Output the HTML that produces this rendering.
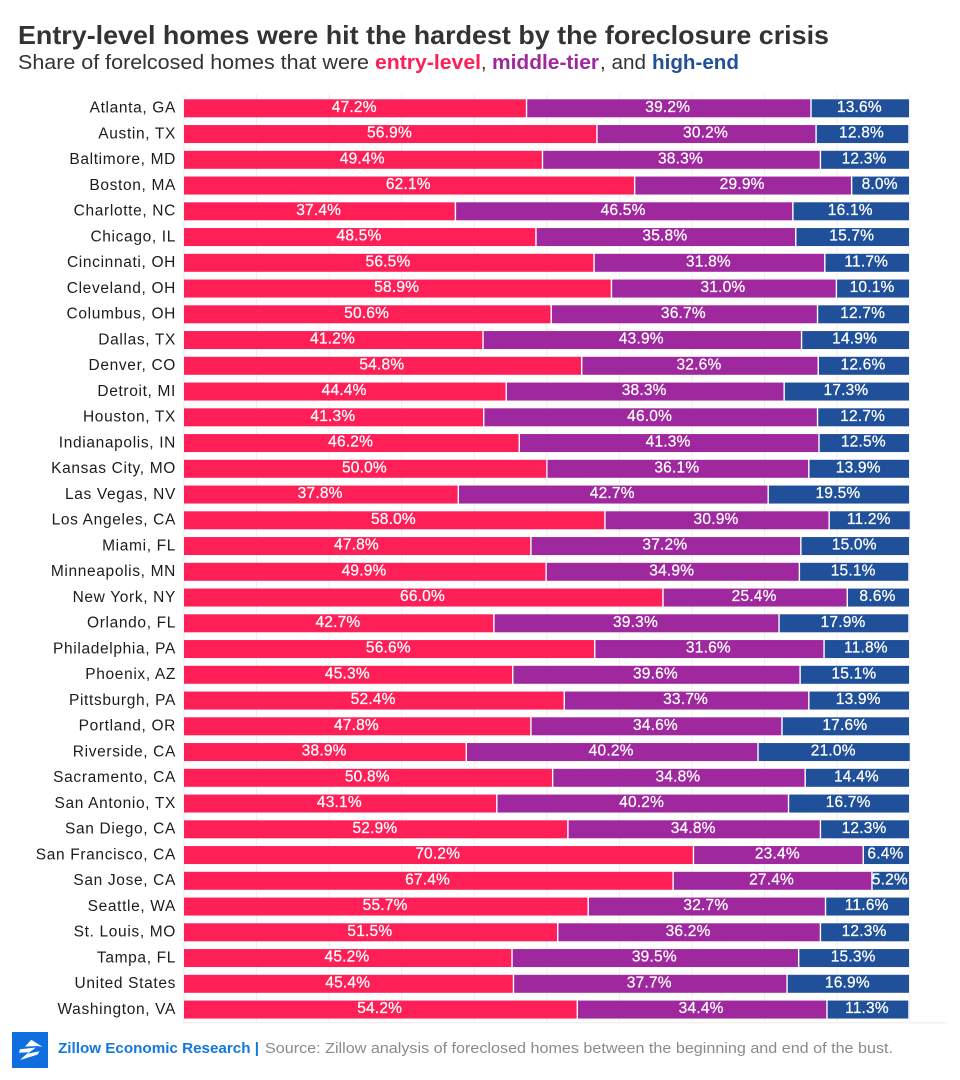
<!DOCTYPE html>
<html lang="en">
<head>
<meta charset="utf-8">
<title>Entry-level homes were hit the hardest by the foreclosure crisis</title>
<style>
html,body{margin:0;padding:0;background:#fff;}
body{width:960px;height:1080px;overflow:hidden;}
svg{display:block;font-family:"Liberation Sans",sans-serif;}
</style>
</head>
<body>
<svg id="chart" width="960" height="1080" viewBox="0 0 960 1080" xmlns="http://www.w3.org/2000/svg">
  <text x="18" y="44" font-size="26" font-weight="700" fill="#333333" textLength="811" lengthAdjust="spacingAndGlyphs">Entry-level homes were hit the hardest by the foreclosure crisis</text>
  <g font-size="20">
    <text x="18" y="69" fill="#333333" textLength="351" lengthAdjust="spacingAndGlyphs">Share of forelcosed homes that were</text>
    <text x="375" y="69" fill="#ff1f57" font-weight="700" textLength="106" lengthAdjust="spacingAndGlyphs">entry-level</text>
    <text x="481" y="69" fill="#333333">,</text>
    <text x="492" y="69" fill="#a0289f" font-weight="700" textLength="107" lengthAdjust="spacingAndGlyphs">middle-tier</text>
    <text x="600" y="69" fill="#333333" textLength="46" lengthAdjust="spacingAndGlyphs">, and</text>
    <text x="652" y="69" fill="#1f5099" font-weight="700" textLength="87" lengthAdjust="spacingAndGlyphs">high-end</text>
  </g>
  <g id="grid"></g>
  <g id="labels"></g>
  <g id="bars"></g>
  <rect x="183" y="1022" width="764" height="1.5" fill="#f2f2f2"></rect>
  <g>
    <rect x="12" y="1032" width="36" height="36" fill="#0f6fe0"></rect>
    <path d="M31.3 1039.7 L42.5 1046.8 L36.5 1046 L25 1046.6 Z M20 1049.3 L36 1047.5 L27.5 1053.8 L39.5 1051.3 L37.5 1054.6 L20 1060 L28.5 1052.3 L19 1052.8 Z" fill="#ffffff"></path>
  </g>
  <text x="58" y="1053" font-size="14.5" font-weight="700" fill="#1277e1" textLength="201" lengthAdjust="spacingAndGlyphs">Zillow Economic Research |</text>
  <text x="265" y="1053" font-size="14.5" fill="#8a8a8a" textLength="628" lengthAdjust="spacingAndGlyphs">Source: Zillow analysis of foreclosed homes between the beginning and end of the bust.</text>
</svg>
<script>
const categories = ["Atlanta, GA","Austin, TX","Baltimore, MD","Boston, MA","Charlotte, NC","Chicago, IL","Cincinnati, OH","Cleveland, OH","Columbus, OH","Dallas, TX","Denver, CO","Detroit, MI","Houston, TX","Indianapolis, IN","Kansas City, MO","Las Vegas, NV","Los Angeles, CA","Miami, FL","Minneapolis, MN","New York, NY","Orlando, FL","Philadelphia, PA","Phoenix, AZ","Pittsburgh, PA","Portland, OR","Riverside, CA","Sacramento, CA","San Antonio, TX","San Diego, CA","San Francisco, CA","San Jose, CA","Seattle, WA","St. Louis, MO","Tampa, FL","United States","Washington, VA"];
const entryLevel = [47.2,56.9,49.4,62.1,37.4,48.5,56.5,58.9,50.6,41.2,54.8,44.4,41.3,46.2,50.0,37.8,58.0,47.8,49.9,66.0,42.7,56.6,45.3,52.4,47.8,38.9,50.8,43.1,52.9,70.2,67.4,55.7,51.5,45.2,45.4,54.2];
const middleTier = [39.2,30.2,38.3,29.9,46.5,35.8,31.8,31.0,36.7,43.9,32.6,38.3,46.0,41.3,36.1,42.7,30.9,37.2,34.9,25.4,39.3,31.6,39.6,33.7,34.6,40.2,34.8,40.2,34.8,23.4,27.4,32.7,36.2,39.5,37.7,34.4];
const highEnd = [13.6,12.8,12.3,8.0,16.1,15.7,11.7,10.1,12.7,14.9,12.6,17.3,12.7,12.5,13.9,19.5,11.2,15.0,15.1,8.6,17.9,11.8,15.1,13.9,17.6,21.0,14.4,16.7,12.3,6.4,5.2,11.6,12.3,15.3,16.9,11.3];
const gridTicks = [0,10,20,30,40,50,60,70,80,90,100];

const NS = "http://www.w3.org/2000/svg";
const xAxis = v => 184 + v * 7.257;
const yAxis = i => 99.3 + i * 25.75;
const BAR_H = 18;

const series = [
  { key: "entry-level", values: entryLevel, color: "#ff1f57" },
  { key: "middle-tier", values: middleTier, color: "#a0289f" },
  { key: "high-end", values: highEnd, color: "#1f5099" }
];

const gridG = document.getElementById("grid");
const labelsG = document.getElementById("labels");
const barsG = document.getElementById("bars");

gridTicks.forEach(t => {
  const l = document.createElementNS(NS, "line");
  
  
  l.setAttribute("x1", xAxis(t));
  l.setAttribute("x2", xAxis(t));
  l.setAttribute("y1", 94);
  l.setAttribute("y2", 1023);
  l.setAttribute("stroke", "#eeeeee");
  l.setAttribute("stroke-width", "1");
  gridG.appendChild(l);
});

categories.forEach((name, i) => {
  const lab = document.createElementNS(NS, "text");
  
  
  lab.setAttribute("x", 176);
  lab.setAttribute("y", yAxis(i) + 13.4);
  lab.setAttribute("text-anchor", "end");
  lab.setAttribute("font-size", "15.5");
  lab.setAttribute("letter-spacing", "0.65");
  lab.setAttribute("fill", "#1c1c1c");
  lab.textContent = name;
  labelsG.appendChild(lab);

  let cum = 0;
  series.forEach(s => {
    const v = s.values[i];
    const x0 = xAxis(cum);
    const x1 = xAxis(cum + v);
    const r = document.createElementNS(NS, "rect");
    
    
    r.setAttribute("x", x0 + (cum === 0 ? 0 : 0.7));
    r.setAttribute("y", yAxis(i));
    r.setAttribute("width", Math.max(0, x1 - x0 - (cum === 0 ? 0.7 : 1.4)));
    r.setAttribute("height", BAR_H);
    r.setAttribute("fill", s.color);
    barsG.appendChild(r);

    const t = document.createElementNS(NS, "text");
    
    
    t.setAttribute("x", (x0 + x1) / 2 - 1);
    t.setAttribute("y", yAxis(i) + 12.6);
    t.setAttribute("text-anchor", "middle");
    t.setAttribute("font-size", "15.5");
    t.setAttribute("letter-spacing", "0.2");
    t.setAttribute("fill", "#ffffff");
    t.setAttribute("stroke", "#ffffff");
    t.setAttribute("stroke-width", "0.25");
    t.textContent = v.toFixed(1) + "%";
    barsG.appendChild(t);
    cum += v;
  });
});
</script>
</body>
</html>
